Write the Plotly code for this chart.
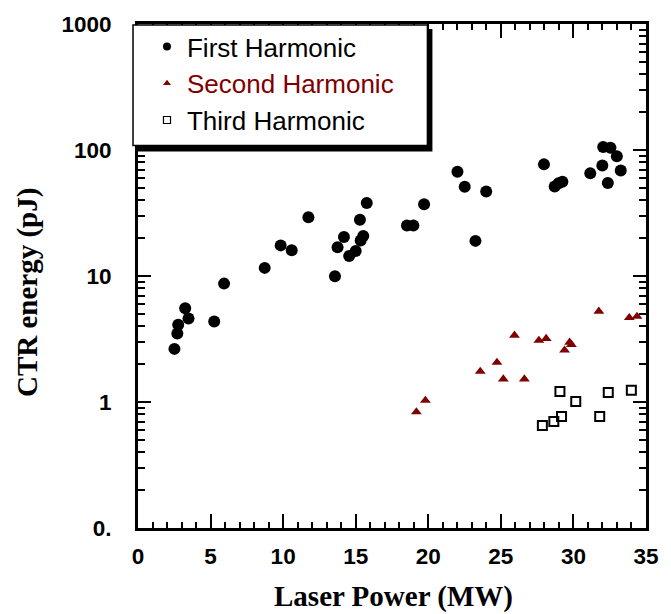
import plotly.graph_objects as go

# ---- data ----
first_x = [2.51, 2.71, 2.77, 3.25, 3.48, 5.25, 5.93, 8.73, 9.83, 10.59,
           11.74, 13.57, 13.75, 14.19, 14.55, 15.0, 15.29, 15.34, 15.52, 15.76,
           18.53, 18.97, 19.71, 22.01, 22.51, 23.25, 23.99, 27.97, 28.71, 28.98,
           29.24, 31.16, 31.99, 32.05, 32.55, 32.37, 32.99, 33.26]
first_y = [2.64, 3.5, 4.1, 5.55, 4.6, 4.36, 8.7, 11.6, 17.5, 16.0,
           29.2, 9.97, 16.9, 20.4, 14.4, 15.8, 28.0, 19.1, 20.8, 37.9,
           25.2, 25.2, 37.1, 67.1, 51.0, 19.0, 46.9, 76.9, 51.4, 54.4,
           55.9, 65.3, 75.2, 105.6, 104.2, 54.7, 89.1, 68.7]

second_x = [19.18, 19.8, 23.58, 24.73, 25.17, 25.94, 26.62, 27.62, 28.12,
            29.39, 29.74, 29.86, 31.75, 33.85, 34.38]
second_y = [0.834, 1.03, 1.75, 2.06, 1.52, 3.38, 1.52, 3.08, 3.19,
            2.58, 2.98, 2.85, 5.24, 4.67, 4.78]

third_x = [27.86, 28.65, 29.07, 29.18, 30.16, 31.81, 32.4, 33.99]
third_y = [0.651, 0.699, 1.21, 0.766, 1.01, 0.766, 1.19, 1.24]

x_ticks = [0, 5, 10, 15, 20, 25, 30, 35]
y_ticks = [0.1, 1, 10, 100, 1000]
y_tick_text = ["0.", "1", "10", "100", "1000"]

series_names = ["First Harmonic", "Second Harmonic", "Third Harmonic"]
DARK_RED = "#800000"

# ---- figure ----
W, H = 671, 614
ML, MR, MT, MB = 138, 24, 18, 86
PW, PH = W - ML - MR, H - MT - MB


def px_x(p):
    return (p - ML) / PW


def px_y(p):
    return (H - MB - p) / PH


fig = go.Figure()

# data marks
fig.add_trace(go.Scatter(
    x=first_x, y=first_y, mode="markers", showlegend=False,
    marker=dict(symbol="circle", size=12, color="black", line=dict(width=0))))
fig.add_trace(go.Scatter(
    x=second_x, y=second_y, mode="markers", showlegend=False,
    marker=dict(symbol="triangle-up", size=9.5, color=DARK_RED, line=dict(width=0))))
fig.add_trace(go.Scatter(
    x=third_x, y=third_y, mode="markers", showlegend=False,
    marker=dict(symbol="square-open", size=9, color="black", line=dict(width=2, color="black"))))

# legend entries (smaller symbols, as in the reference key)
fig.add_trace(go.Scatter(
    x=[None], y=[None], mode="markers", name=series_names[0],
    marker=dict(symbol="circle", size=8, color="black", line=dict(width=0))))
fig.add_trace(go.Scatter(
    x=[None], y=[None], mode="markers",
    name="<span style='color:%s'>%s</span>" % (DARK_RED, series_names[1]),
    marker=dict(symbol="triangle-up", size=7, color=DARK_RED, line=dict(width=0))))
fig.add_trace(go.Scatter(
    x=[None], y=[None], mode="markers", name=series_names[2],
    marker=dict(symbol="square-open", size=7, color="black", line=dict(width=1.2, color="black"))))

minor_y = [m * 10.0 ** e for e in range(-1, 3) for m in range(2, 10)]

tickfont = dict(family="Liberation Sans, Arial, sans-serif", size=22.5, color="black", weight="bold")

fig.update_layout(
    width=W, height=H,
    margin=dict(l=ML, r=MR, t=MT, b=MB, pad=0),
    paper_bgcolor="white", plot_bgcolor="white",
    showlegend=True,
    legend=dict(
        x=px_x(147), y=px_y(17), xanchor="left", yanchor="top",
        bgcolor="rgba(0,0,0,0)", borderwidth=0,
        font=dict(family="Liberation Sans, Arial, sans-serif", size=26, color="black"),
        itemsizing="trace", tracegroupgap=0,
    ),
    xaxis=dict(
        range=[0, 35], tickmode="array", tickvals=x_ticks,
        ticks="inside", ticklen=14, tickwidth=1.5, tickcolor="black",
        showline=True, linewidth=3, linecolor="black", mirror="ticks",
        showgrid=False, zeroline=False, tickfont=tickfont, ticklabelstandoff=6,
        minor=dict(dtick=1, tick0=0, ticks="inside", ticklen=6, tickwidth=1.5,
                   tickcolor="black", showgrid=False),
    ),
    yaxis=dict(
        type="log", range=[-1, 3], tickmode="array", tickvals=y_ticks, ticktext=y_tick_text,
        ticks="inside", ticklen=13, tickwidth=1.5, tickcolor="black",
        showline=True, linewidth=3, linecolor="black", mirror="ticks",
        showgrid=False, zeroline=False, tickfont=tickfont, ticklabelstandoff=19,
        minor=dict(tickmode="array", tickvals=minor_y, ticks="inside", ticklen=7,
                   tickwidth=1.5, tickcolor="black", showgrid=False),
    ),
    shapes=[
        # legend frame shadow and box
        dict(type="rect", xref="paper", yref="paper", layer="above",
             x0=px_x(137), x1=px_x(433), y0=px_y(147), y1=px_y(23),
             fillcolor="black", line=dict(width=0)),
        dict(type="rect", xref="paper", yref="paper", layer="above",
             x0=px_x(133), x1=px_x(428), y0=px_y(141), y1=px_y(19),
             fillcolor="white", line=dict(width=1.5, color="black")),
    ],
    annotations=[
        dict(text="<b>Laser Power (MW)</b>", xref="paper", yref="paper",
             x=px_x(394), y=px_y(597), xanchor="center", yanchor="middle", showarrow=False,
             font=dict(family="Liberation Serif, Times New Roman, serif", size=29, color="black")),
        dict(text="<b>CTR energy (pJ)</b>", xref="paper", yref="paper", textangle=-90,
             x=px_x(28), y=px_y(290), xanchor="center", yanchor="middle", showarrow=False,
             font=dict(family="Liberation Serif, Times New Roman, serif", size=29, color="black")),
    ],
)

fig.write_html("out.html", config={"displayModeBar": False},
               post_script="document.body.style.margin='0';document.body.style.padding='0';")
